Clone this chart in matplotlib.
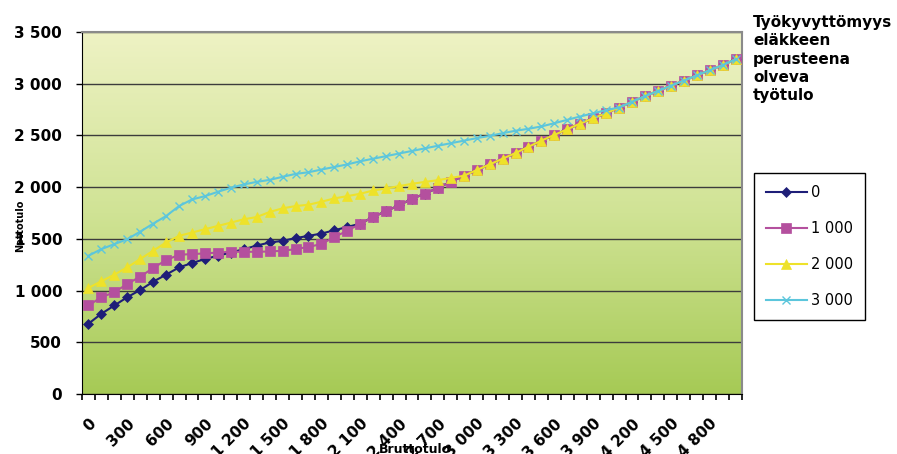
"""Työkyvyttömyyseläke: nettotulo bruttotulon mukaan."""

import matplotlib

matplotlib.use("Agg")
import matplotlib.pyplot as plt
import numpy as np
from matplotlib.colors import LinearSegmentedColormap
from matplotlib.lines import Line2D

plt.rcParams["font.family"] = ["DejaVu Sans"]

# category axis: gross income 0 ... 5000 in steps of 100
incomes = list(range(0, 5001, 100))
label_every = 3

# part where all four series run together (categories 41..50)
merged_tail = [2770, 2825, 2880, 2930, 2980, 3030, 3080, 3130, 3180, 3235]
# part where 0 / 1 000 / 2 000 already coincide (categories 29..40)
lower_mid = [2110, 2165, 2220, 2275, 2330, 2390, 2450, 2505, 2560, 2615, 2665, 2715]

s1000_head = [856, 936, 984, 1064, 1135, 1218, 1295, 1346, 1353, 1359, 1368,
              1375, 1375, 1375, 1378, 1385, 1400, 1423, 1449, 1519, 1577,
              1647, 1711, 1769, 1824, 1888, 1936, 1994, 2051]
s0_head = [680, 776, 856, 936, 1006, 1086, 1154, 1224, 1266, 1305, 1337,
           1368, 1400, 1435, 1465, 1481, 1507, 1529, 1551, 1583, 1615]
s2000_head = [1026, 1090, 1154, 1224, 1305, 1385, 1465, 1529, 1561, 1593, 1625,
              1657, 1689, 1711, 1760, 1795, 1817, 1830, 1859, 1891, 1913,
              1936, 1968, 1987, 2010, 2032, 2051, 2067, 2089]
s3000_head = [1337, 1401, 1449, 1497, 1570, 1647, 1721, 1817, 1881, 1913, 1955,
              1994, 2026, 2051, 2070, 2100, 2128, 2144, 2170, 2195, 2220,
              2250, 2275, 2300, 2325, 2350, 2375, 2400, 2425, 2449, 2474,
              2495, 2522, 2545, 2564, 2587, 2618, 2651, 2683, 2714, 2745]

s1000 = s1000_head + lower_mid + merged_tail
s0 = s0_head + s1000[len(s0_head):]
s2000 = s2000_head + lower_mid + merged_tail
s3000 = s3000_head + merged_tail

series = [
    ("0", s0, "#1E1E78", "D", 5),
    ("1 000", s1000, "#B4509E", "s", 7),
    ("2 000", s2000, "#EEE22A", "^", 7),
    ("3 000", s3000, "#5CC6DC", "x", 6),
]


def fmt(v):
    return f"{v:,}".replace(",", " ")


fig = plt.figure(figsize=(8.97, 4.54), dpi=100)
ax = fig.add_axes([82 / 897, 1 - 394 / 454, 660 / 897, 362 / 454])

bg = LinearSegmentedColormap.from_list("bg", ["#EEF2C4", "#D0E395", "#A6CA55"])
ax.imshow(np.linspace(0, 1, 256).reshape(-1, 1), cmap=bg, aspect="auto",
          extent=[0, 1, 0, 1], transform=ax.transAxes, zorder=0)

x = np.arange(len(incomes))
for name, vals, color, marker, ms in series:
    ax.plot(x, vals, color=color, lw=1.5, marker=marker, markersize=ms,
            mew=1 if marker == "x" else 0.5, label=name, zorder=3)

ax.set_xlim(-0.5, len(incomes) - 0.5)
ax.set_ylim(0, 3500)

yt = list(range(0, 3501, 500))
ax.set_yticks(yt)
ax.set_yticklabels([fmt(v) for v in yt], fontsize=11, fontweight="bold")
ax.tick_params(axis="y", length=4.3, width=1, pad=10)
ax.yaxis.grid(True, color="#3c3c3c", lw=1)

major = x[::label_every]
ax.set_xticks(major)
ax.set_xticklabels([fmt(incomes[i]) for i in major], rotation=45, ha="right",
                   rotation_mode="anchor", fontsize=11, fontweight="bold")
ax.set_xticks(np.arange(-0.5, len(incomes)), minor=True)
ax.tick_params(axis="x", which="major", length=0, pad=16)
ax.tick_params(axis="x", which="minor", length=4, width=1.2, direction="out")

for side in ("left", "bottom"):
    ax.spines[side].set_color("black")
for side in ("top", "right"):
    ax.spines[side].set_color("#8a8a8a")
    ax.spines[side].set_linewidth(1.5)

fig.text(20 / 897, 1 - 226 / 454, "Nettotulo", rotation=90, ha="center",
         va="center", fontsize=7, fontweight="bold")
fig.text(415 / 897, 1 - 443 / 454, "Bruttotulo", ha="center", va="top",
         fontsize=9, fontweight="bold")

fig.text(753 / 897, 1 - 15 / 454,
         "Työkyvyttömyys\neläkkeen\nperusteena\nolveva\ntyötulo",
         ha="left", va="top", fontsize=11, fontweight="bold", linespacing=1.28)

handles = [Line2D([], [], color=c, marker=m, markersize=ms, lw=1.5,
                  mew=1 if m == "x" else 0.5) for _, _, c, m, ms in series]
leg = fig.legend(handles, [s[0] for s in series], loc="upper left",
                 bbox_to_anchor=(754 / 897, 1 - 173 / 454), frameon=True,
                 fancybox=False, edgecolor="black", framealpha=1,
                 borderaxespad=0, fontsize=10.5, labelspacing=1.45,
                 handlelength=2.8, handletextpad=0.3, borderpad=0.8)
leg.get_frame().set_linewidth(1)

fig.savefig("out.png", dpi=100)
plt.close(fig)
